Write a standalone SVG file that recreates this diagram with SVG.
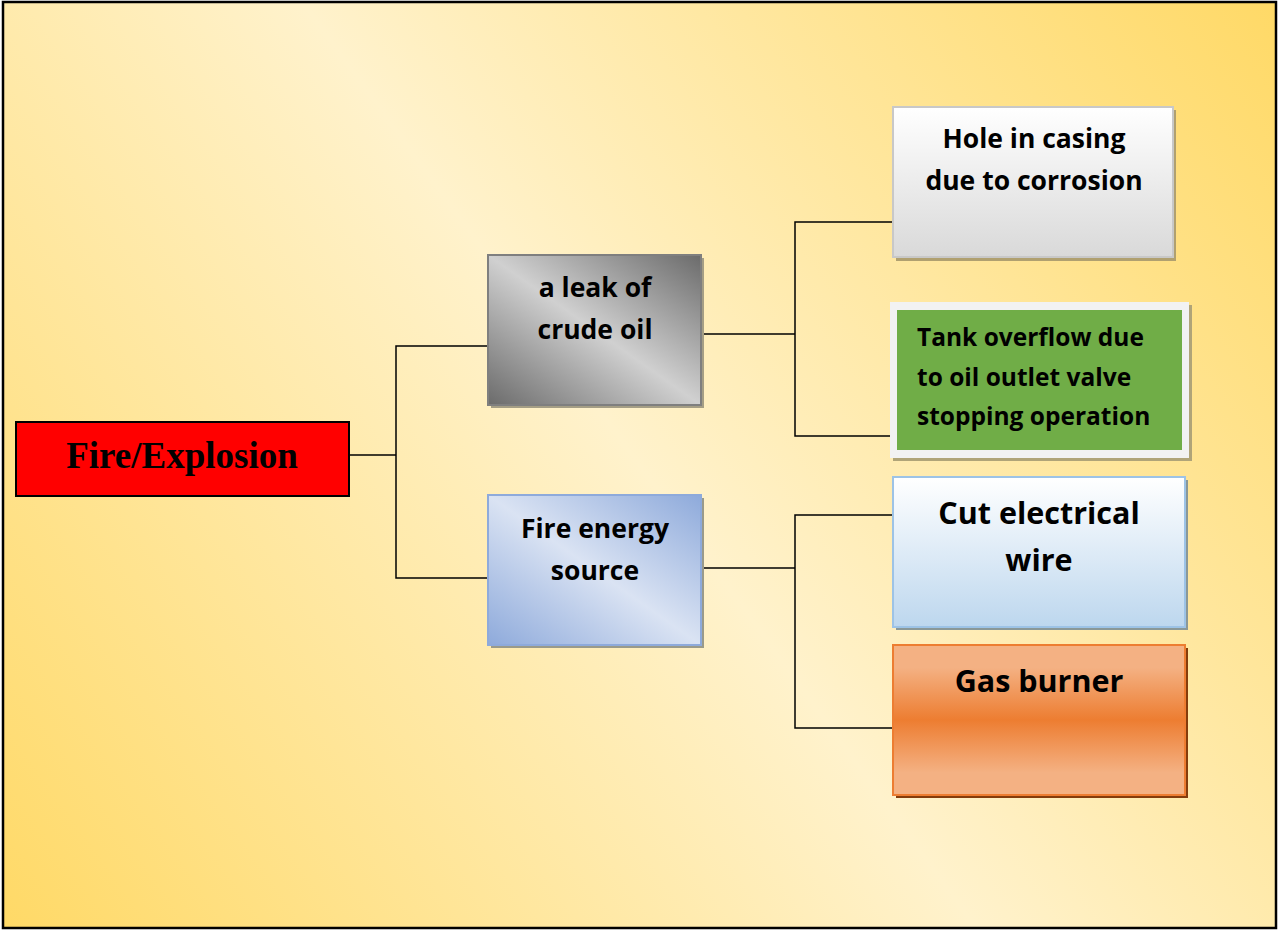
<svg xmlns="http://www.w3.org/2000/svg" width="1279" height="930" viewBox="0 0 1279 930">
<defs>
<linearGradient id="bg" x1="1279" y1="0" x2="0" y2="930" gradientUnits="userSpaceOnUse">
<stop offset="0" stop-color="#ffd966"/>
<stop offset="0.5" stop-color="#fff2cc"/>
<stop offset="1" stop-color="#ffd966"/>
</linearGradient>
<linearGradient id="grey" x1="1" y1="0" x2="0" y2="1">
<stop offset="0" stop-color="#6b6b6b"/>
<stop offset="0.5" stop-color="#d0d0d0"/>
<stop offset="1" stop-color="#6b6b6b"/>
</linearGradient>
<linearGradient id="blue" x1="1" y1="0" x2="0" y2="1">
<stop offset="0" stop-color="#8eaadb"/>
<stop offset="0.5" stop-color="#dae3f3"/>
<stop offset="1" stop-color="#8eaadb"/>
</linearGradient>
<linearGradient id="white" x1="0" y1="0" x2="0" y2="1">
<stop offset="0" stop-color="#ffffff"/>
<stop offset="1" stop-color="#d9d9d9"/>
</linearGradient>
<linearGradient id="lblue" x1="0" y1="0" x2="0" y2="1">
<stop offset="0" stop-color="#ffffff"/>
<stop offset="1" stop-color="#bdd7ee"/>
</linearGradient>
<linearGradient id="orange" x1="0" y1="0" x2="0" y2="1">
<stop offset="0" stop-color="#f4b183"/>
<stop offset="0.15" stop-color="#f4b183"/>
<stop offset="0.5" stop-color="#ed7d31"/>
<stop offset="0.85" stop-color="#f4b183"/>
<stop offset="1" stop-color="#f4b183"/>
</linearGradient>
</defs>
<style>
.conn{fill:none;stroke:#000;stroke-width:1.5}
.t{font-family:"Open Sans",Lato,"Liberation Sans",sans-serif;font-weight:bold;fill:#000;text-anchor:middle}
.l{text-anchor:start}
</style>
<rect x="3" y="2" width="1273" height="926" fill="url(#bg)" stroke="#000" stroke-width="2.5"/>
<g id="connectors" class="conn">
<polyline points="349,455 396,455"/>
<polyline points="488,346 396,346 396,578 488,578"/>
<polyline points="702,334 795,334"/>
<polyline points="893,222 795,222 795,436 890,436"/>
<polyline points="702,568 795,568"/>
<polyline points="893,515 795,515 795,728 893,728"/>
</g>
<g id="fire">
<rect x="16" y="422" width="333" height="74" fill="#ff0000" stroke="#000" stroke-width="2"/>
<text x="182" y="468" font-family="'Liberation Serif',serif" font-weight="bold" font-size="37" text-anchor="middle">Fire/Explosion</text>
</g>
<g id="leak">
<rect x="491" y="258" width="213" height="150" fill="#a59e85"/>
<rect x="488" y="255" width="213" height="150" fill="url(#grey)" stroke="#7f7f7f" stroke-width="2"/>
<text class="t" font-size="26.5" x="595" y="297">a leak of</text>
<text class="t" font-size="26.5" x="595" y="339">crude oil</text>
</g>
<g id="energy">
<rect x="491" y="498" width="213" height="150" fill="#9a9a8a"/>
<rect x="488" y="495" width="213" height="150" fill="url(#blue)" stroke="#8eaadb" stroke-width="2"/>
<text class="t" font-size="26.5" x="595" y="538">Fire energy</text>
<text class="t" font-size="26.5" x="595" y="580">source</text>
</g>
<g id="hole">
<rect x="896" y="110" width="280" height="151" fill="#b0a070"/>
<rect x="893" y="107" width="280" height="150" fill="url(#white)" stroke="#c8c8c8" stroke-width="2"/>
<text class="t" font-size="26.5" x="1034" y="148">Hole in casing</text>
<text class="t" font-size="26.5" x="1034" y="190">due to corrosion</text>
</g>
<g id="tank">
<rect x="893" y="305" width="299" height="156" fill="#b0a478"/>
<rect x="890" y="302" width="299" height="156" fill="#f2f2f2"/>
<rect x="897" y="310" width="285" height="140" fill="#70ad47"/>
<text class="t l" font-size="24.5" x="917" y="346">Tank overflow due</text>
<text class="t l" font-size="24.5" x="917" y="386">to oil outlet valve</text>
<text class="t l" font-size="24.5" x="917" y="425">stopping operation</text>
</g>
<g id="wire">
<rect x="896" y="480" width="292" height="150" fill="#8a9898"/>
<rect x="893" y="477" width="292" height="150" fill="url(#lblue)" stroke="#9dc3e6" stroke-width="2"/>
<text class="t" font-size="30.5" x="1039" y="524">Cut electrical</text>
<text class="t" font-size="30.5" x="1039" y="571">wire</text>
</g>
<g id="gas">
<rect x="896" y="648" width="292" height="150" fill="#843c0c"/>
<rect x="893" y="645" width="292" height="150" fill="url(#orange)" stroke="#ed7d31" stroke-width="2"/>
<text class="t" font-size="30.5" x="1039" y="692">Gas burner</text>
</g>
</svg>
